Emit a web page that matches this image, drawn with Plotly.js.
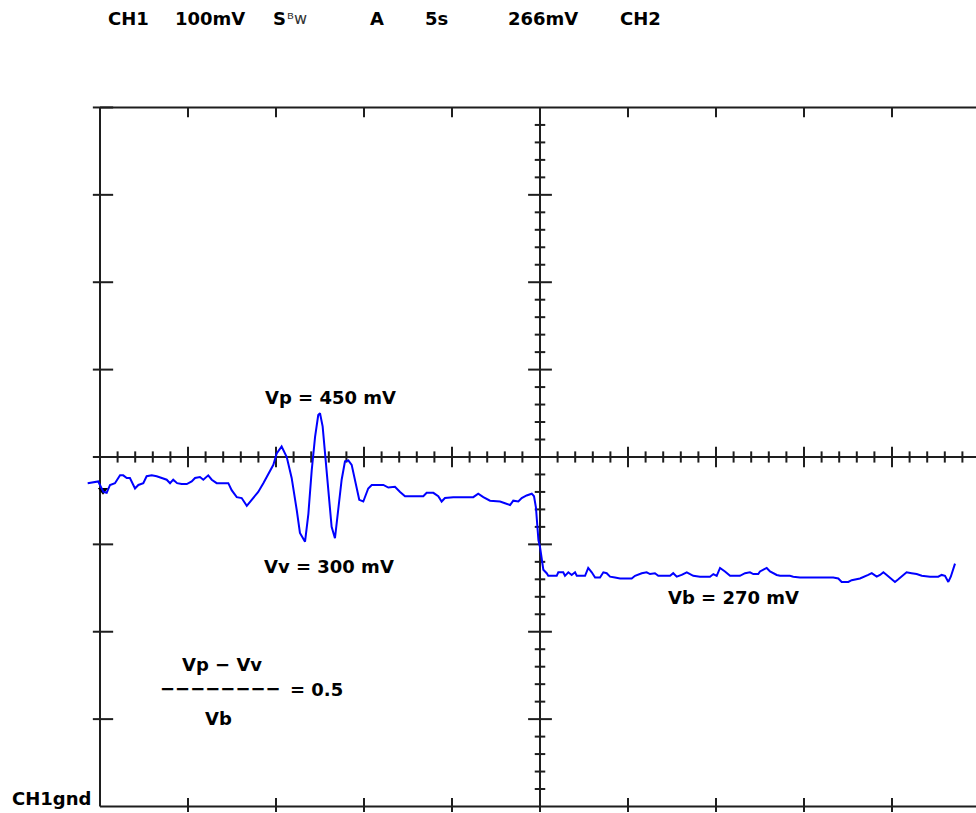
<!DOCTYPE html>
<html><head><meta charset="utf-8">
<script src="https://cdn.plot.ly/plotly-3.0.1.min.js"></script>
<style>html,body{margin:0;padding:0;background:#fff;overflow:hidden}#chart{width:976px;height:813px}</style>
</head><body><div id="chart"></div>
<script>
// ---- Data (time in s, CH1 in mV, ground = 0) ----
const timeS = [-0.70,-0.10,0.19,0.38,0.57,0.85,1.14,1.32,1.52,1.70,1.99,2.18,2.46,2.65,2.94,3.22,3.51,3.79,3.98,4.16,
  4.38,4.64,4.93,5.21,5.40,5.68,5.87,6.15,6.35,6.63,6.91,7.29,7.48,7.77,8.05,8.34,8.62,8.99,9.28,9.56,
  9.85,10.04,10.32,10.61,10.89,11.18,11.36,11.65,11.84,12.03,12.22,12.40,12.50,12.65,12.78,12.97,13.16,13.35,13.54,13.73,
  13.92,14.11,14.30,14.49,14.73,14.96,15.24,15.44,16.10,16.38,16.76,17.05,17.33,18.37,18.56,18.94,19.22,19.41,19.60,20.07,
  20.64,21.21,21.49,21.78,22.16,22.73,23.01,23.30,23.48,23.77,23.96,24.24,24.53,24.66,24.77,24.86,24.91,25.00,25.10,25.19,
  25.38,25.47,25.95,26.04,26.32,26.42,26.61,26.80,26.99,27.09,27.56,27.74,27.94,28.13,28.41,28.60,28.79,28.98,29.26,29.55,
  30.21,30.40,30.78,31.06,31.25,31.53,31.72,32.39,32.57,32.77,33.05,33.34,33.71,34.09,34.66,34.85,35.04,35.23,35.51,35.80,
  36.36,36.65,36.93,37.12,37.40,37.50,37.88,38.07,38.45,38.64,39.20,39.39,39.77,40.53,41.29,41.66,41.95,42.14,42.52,42.71,
  43.18,43.47,43.65,43.85,44.13,44.32,44.51,44.70,44.98,45.17,45.36,45.64,45.83,46.11,46.40,46.69,47.16,47.63,47.82,48.01,
  48.20,48.34,48.45,48.58];
const ch1mV = [370,372,360,359,368,370,379,379,376,376,364,368,370,378,379,378,376,374,370,374,
  370,369,369,372,376,377,374,379,374,370,370,370,362,354,353,344,351,360,370,381,
  391,404,412,400,376,339,313,303,335,385,423,448,450,435,404,366,320,307,339,374,
  395,396,391,372,351,349,364,368,368,365,366,360,355,355,359,359,355,349,353,354,
  354,354,358,354,350,349,347,345,350,349,353,356,358,355,342,320,305,297,282,271,
  267,264,264,268,268,264,268,265,268,264,264,273,268,262,262,268,267,263,262,261,
  261,264,267,268,266,267,264,264,267,263,265,268,264,263,263,266,264,273,269,264,
  264,267,268,266,266,269,273,269,265,264,264,263,262,262,262,262,261,257,257,259,
  261,263,265,267,263,265,268,265,260,257,260,265,268,267,266,264,263,263,265,264,
  257,263,271,278];
const headerTexts = ["CH1","100mV","S","ᴮw","A","5s","266mV","CH2"];
const labelVp = "Vp = 450 mV";
const labelVv = "Vv = 300 mV";
const labelVb = "Vb = 270 mV";
const ratioNum = "Vp − Vv";
const ratioBar = "−−−−−−−−";
const ratioVal = "= 0.5";
const ratioDen = "Vb";
const gndLabel = "CH1gnd";
const trigTime = [0.17];
const trigLevel = [362];

// ---- Screen geometry (10 x 8 divisions, 5 s/div, 100 mV/div) ----
const SDIV = 5, MVDIV = 100, NX = 10, NY = 8;
const XMAX = SDIV * NX, YMAX = MVDIV * NY;
const W = 976, H = 813, ML = 80, MT = 100;
const PXS = 17.6, PXMV = 0.8738;          // pixels per second / per mV
const xRange = [-(100 - ML) / PXS, (W - 100) / PXS];
const yRange = [-(H - 806.5) / PXMV, (806.5 - MT) / PXMV];
const INK = '#1e1e1e';

function range(a, b, s) { const r = []; for (let v = a; v <= b + 1e-9; v += s) r.push(+v.toFixed(6)); return r; }
const majorX = range(SDIV, XMAX - SDIV, SDIV);
const minorX = range(1, XMAX - 1, 1).filter(v => v % SDIV !== 0);
const majorY = range(MVDIV, YMAX - MVDIV, MVDIV);
const minorY = range(20, YMAX - 20, 20).filter(v => v % MVDIV !== 0);

function ticks(x, y, sym, size) {
  return {type: 'scatter', mode: 'markers', x: x, y: y, cliponaxis: false, hoverinfo: 'skip', showlegend: false,
    marker: {symbol: sym, size: size, color: INK, line: {color: INK, width: 2}}};
}
const traces = [
  ticks(minorX, minorX.map(() => YMAX / 2), 'line-ns', 8),
  ticks(majorX, majorX.map(() => YMAX / 2), 'line-ns', 14.5),
  ticks(minorY.map(() => XMAX / 2), minorY, 'line-ew', 7.5),
  ticks(majorY.map(() => XMAX / 2), majorY, 'line-ew', 17),
  ticks(majorY.concat([YMAX]).map(() => 3 / PXS), majorY.concat([YMAX]), 'line-ew', 14.5),
  ticks(majorX, majorX.map(() => YMAX - 5 / PXMV), 'line-ns', 7),
  ticks(majorX, majorX.map(() => 1.5 / PXMV), 'line-ns', 10),
  ticks(majorY.map(() => XMAX), majorY, 'line-ew', 18),
  {type: 'scatter', mode: 'markers', x: trigTime, y: trigLevel, cliponaxis: false, hoverinfo: 'skip', showlegend: false,
    marker: {symbol: 'triangle-down', size: 9, color: '#000'}},
  {type: 'scatter', mode: 'lines', x: timeS, y: ch1mV, hoverinfo: 'skip', showlegend: false, cliponaxis: false,
    line: {color: '#0000ff', width: 2}}
];

function seg(x0, y0, x1, y1) {
  return {type: 'line', xref: 'x', yref: 'y', x0: x0, y0: y0, x1: x1, y1: y1, layer: 'below', line: {color: INK, width: 2}};
}
const shapes = [
  seg(0, YMAX, XMAX, YMAX), seg(0, 0, XMAX, 0), seg(0, 0, 0, YMAX), seg(XMAX, 0, XMAX, YMAX),
  seg(XMAX / 2, 0, XMAX / 2, YMAX), seg(0, YMAX / 2, XMAX, YMAX / 2)
];

const F = {family: '"DejaVu Sans", Verdana, sans-serif', size: 18, color: '#000'};
function ann(text, x, y, xa, opts) {
  return Object.assign({text: '<b>' + text + '</b>', x: x, y: y, xref: 'x', yref: 'y', xanchor: xa, yanchor: 'middle',
    showarrow: false, font: F}, opts || {});
}
// pixel helpers for label placement
const sx = px => (px - 100) / PXS, my = py => (806.5 - py) / PXMV;
const headerLeftPx = [106, 173, 271, 285, 368, 423, 506, 618];
const headerY = (H - 18.5) / (H - MT);
const annotations = headerTexts.map((t, i) => {
  const a = ann(t, sx(headerLeftPx[i]), headerY, 'left', {yref: 'paper'});
  if (t === 'ᴮw') { a.text = t; a.font = {family: '"DejaVu Sans", sans-serif', size: 16, color: '#333'}; }
  return a;
}).concat([
  ann(labelVp, sx(330), my(397), 'center'),
  ann(labelVv, sx(328.5), my(566), 'center'),
  ann(labelVb, sx(733), my(597), 'center'),
  ann(ratioNum, sx(222), my(664), 'center'),
  ann(ratioBar, sx(220.5), my(688), 'center'),
  ann(ratioVal, sx(288), my(689), 'left'),
  ann(ratioDen, sx(218), my(718.5), 'center'),
  ann(gndLabel, sx(93), my(798), 'right')
]);

const ax = {showgrid: false, zeroline: false, showticklabels: false, showline: false, ticks: '', fixedrange: true};
const layout = {
  width: W, height: H, margin: {l: ML, r: 0, t: MT, b: 0, pad: 0},
  paper_bgcolor: '#fff', plot_bgcolor: '#fff', showlegend: false,
  xaxis: Object.assign({range: xRange}, ax),
  yaxis: Object.assign({range: yRange}, ax),
  shapes: shapes, annotations: annotations
};
Plotly.newPlot('chart', traces, layout, {displayModeBar: false, staticPlot: true});
</script></body></html>
